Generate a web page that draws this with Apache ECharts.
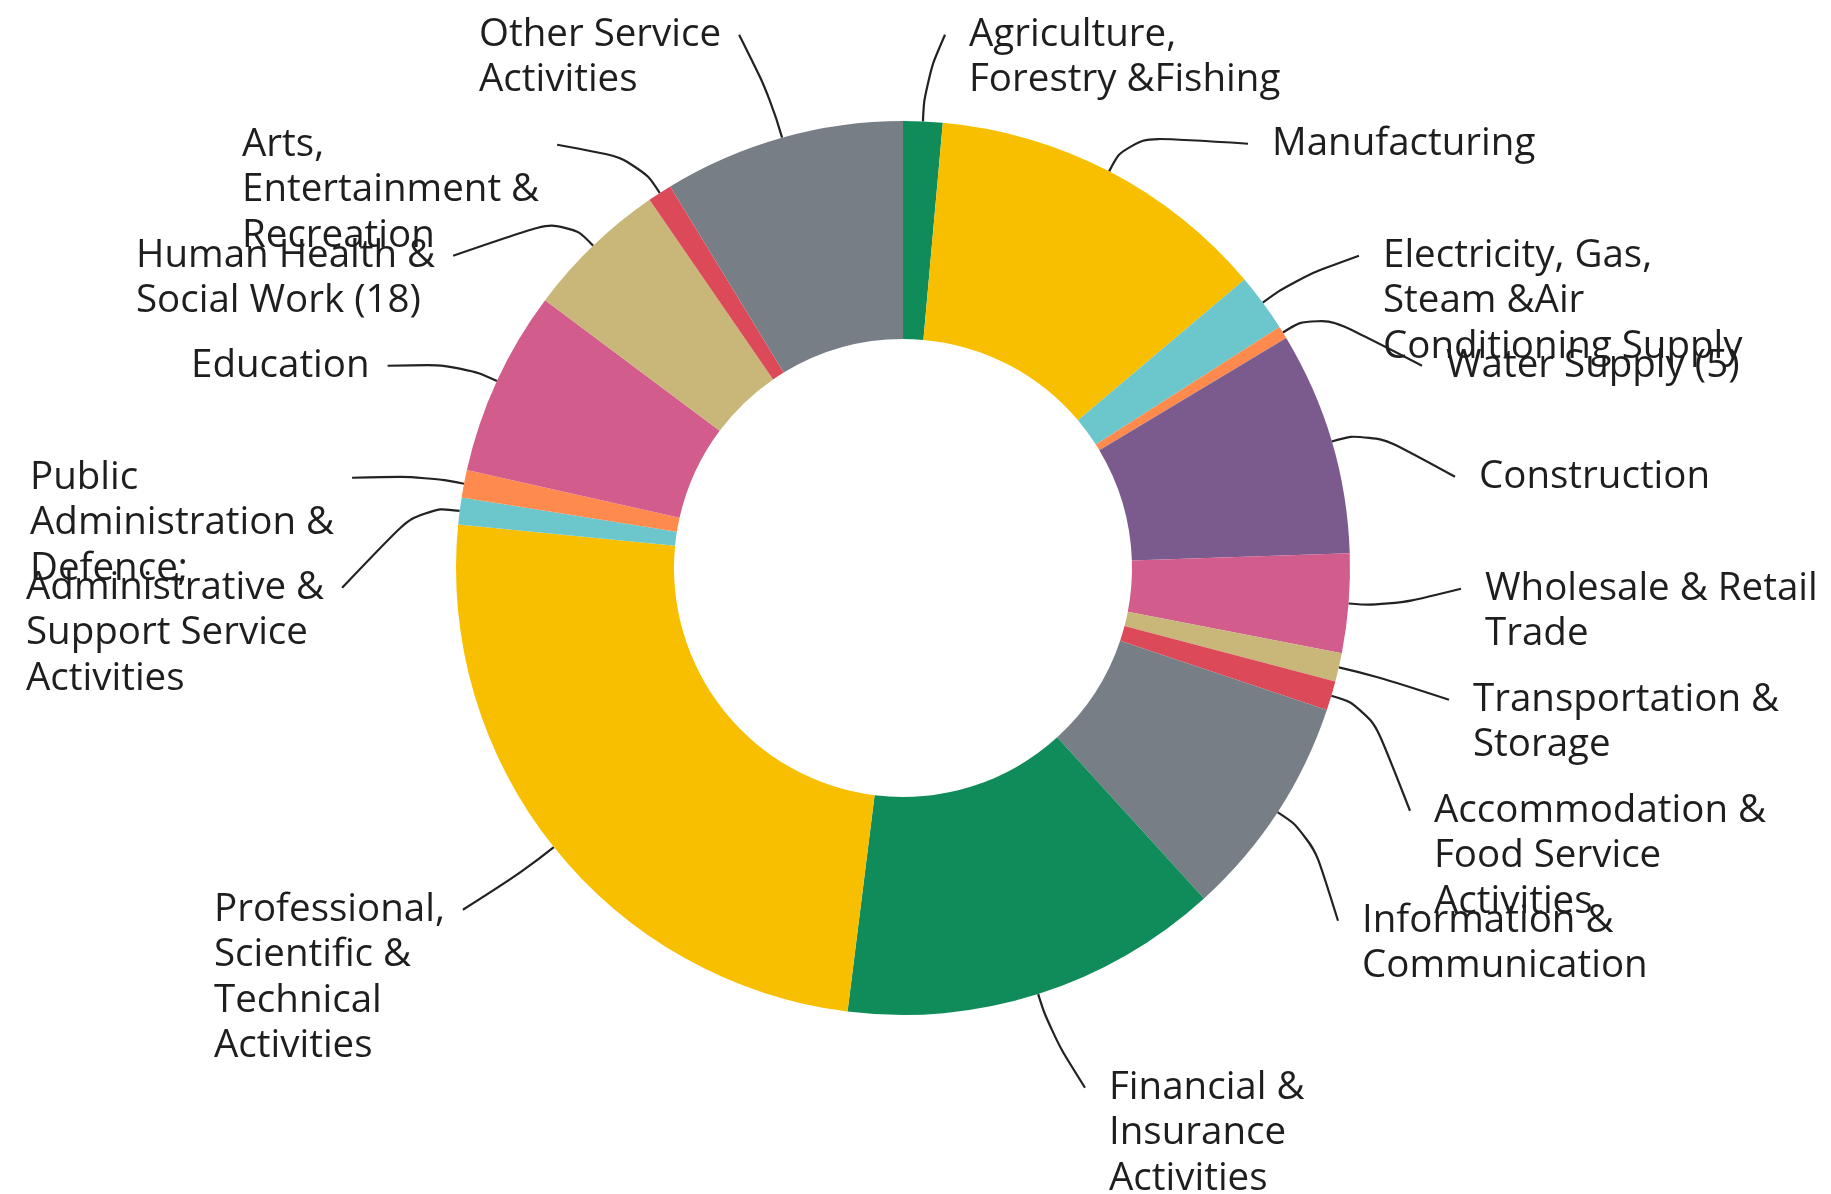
<!DOCTYPE html>
<html>
<head>
<meta charset="utf-8">
<script src="https://cdn.jsdelivr.net/npm/echarts@6/dist/echarts.min.js"></script>
<style>
  html, body { margin: 0; padding: 0; background: #ffffff; }
  #chart { width: 1831px; height: 1194px; }
</style>
</head>
<body>
<div id="chart"></div>
<script>
// ---- data ----
const categories = [
  "Agriculture,\nForestry &Fishing",
  "Manufacturing",
  "Electricity, Gas,\nSteam &Air\nConditioning Supply",
  "Water Supply (5)",
  "Construction",
  "Wholesale & Retail\nTrade",
  "Transportation &\nStorage",
  "Accommodation &\nFood Service\nActivities",
  "Information &\nCommunication",
  "Financial &\nInsurance\nActivities",
  "Professional,\nScientific &\nTechnical\nActivities",
  "Administrative &\nSupport Service\nActivities",
  "Public\nAdministration &\nDefence;",
  "Education",
  "Human Health &\nSocial Work (18)",
  "Arts,\nEntertainment &\nRecreation",
  "Other Service\nActivities"
];
// share of total (%)
const shares = [1.42, 12.42, 2.10, 0.46, 8.08, 3.58, 1.03, 1.06, 8.10, 13.74, 24.58, 0.97, 0.99, 6.71, 5.18, 0.88, 8.72];

// ---- styles / layout (kept separate from data) ----
const sliceColors = [
  "#0F8C5A", "#F8BF00", "#6BC7CC", "#FF8A4E", "#7B5B8E", "#D25C8C", "#C8B779", "#DC4A5A", "#787E86",
  "#0F8C5A", "#F8BF00", "#6BC7CC", "#FF8A4E", "#D25C8C", "#C8B779", "#DC4A5A", "#787E86"
];
// label box top-left positions [x, y] in px
const labelPos = [
  [969, 12], [1272, 121], [1383, 233], [1446, 343], [1479, 454], [1485, 566], [1473, 677],
  [1434, 788], [1362, 898], [1109, 1065], [214, 887], [26, 565], [30, 455], [191, 343],
  [136, 233], [242, 122], [479, 12]
];
const LINE_H = 45.5;

const chart = echarts.init(document.getElementById('chart'), null, { renderer: 'canvas' });

const option = {
  backgroundColor: '#ffffff',
  animation: false,
  series: [{
    type: 'pie',
    center: [903, 568],
    radius: [229, 447],
    startAngle: 90,
    clockwise: true,
    avoidLabelOverlap: false,
    emphasis: { disabled: true },
    itemStyle: { borderWidth: 0 },
    data: categories.map((name, i) => ({
      name: name,
      value: shares[i],
      itemStyle: { color: sliceColors[i] }
    })),
    label: {
      show: true,
      position: 'outside',
      formatter: '{b}',
      fontFamily: 'Open Sans',
      fontSize: 38.5,
      lineHeight: LINE_H,
      color: '#1e1e1e',
      align: 'left'
    },
    labelLine: {
      show: true,
      length: 40,
      length2: 10,
      smooth: 0.5,
      lineStyle: { color: '#222222', width: 2.2 }
    },
    labelLayout: function (p) {
      const pos = labelPos[p.dataIndex];
      const x = pos[0], y = pos[1];
      const w = p.labelRect.width;
      const pts = p.labelLinePoints;
      const p0 = pts[0], p1 = pts[1];
      const rightSide = x > p0[0];
      const end = rightSide ? [x - 24, y + LINE_H / 2] : [x + w + 18, y + LINE_H / 2];
      return {
        x: x,
        y: y,
        align: 'left',
        verticalAlign: 'top',
        labelLinePoints: [p0, p1, end]
      };
    }
  }]
};
chart.setOption(option);
</script>
</body>
</html>
